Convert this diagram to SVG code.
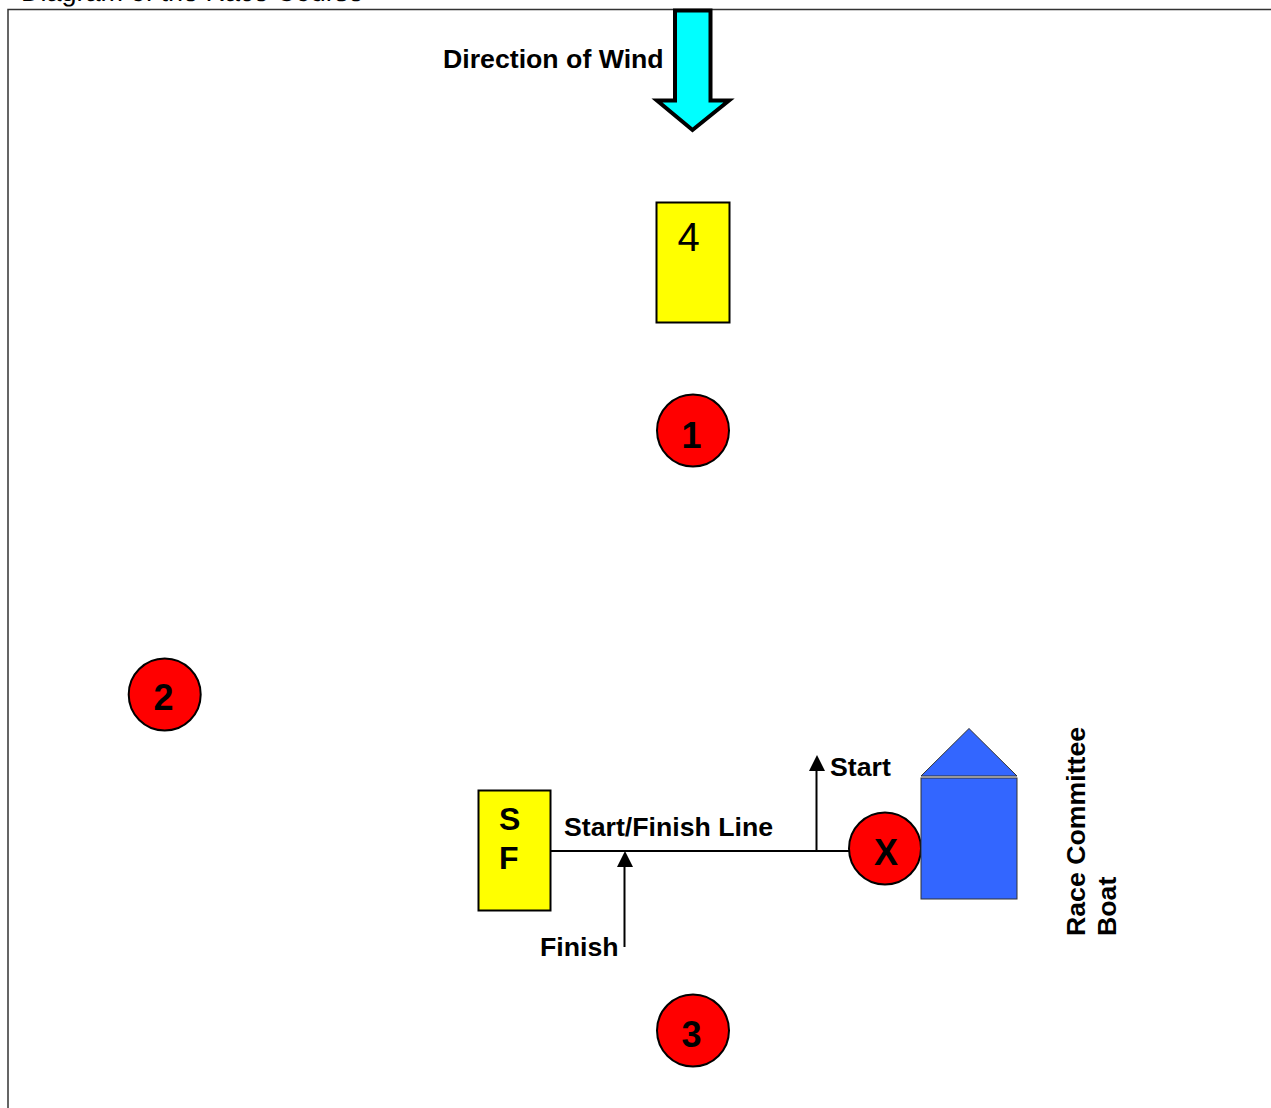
<svg xmlns="http://www.w3.org/2000/svg" width="1271" height="1108" viewBox="0 0 1271 1108">
<style>
text{font-family:"Liberation Sans",Arial,sans-serif;fill:#000}
.b{font-weight:700;font-size:26.700px}
.mark circle{fill:#f00;stroke:#000;stroke-width:2}
.mark text{font-weight:700;font-size:36px;text-anchor:middle}
.y{fill:#ff0;stroke:#000;stroke-width:2}
.boat{fill:#36f;stroke:#333;stroke-width:1}
.c{stroke:#000;stroke-width:2;fill:none}
</style>
<rect width="1271" height="1108" fill="#fff"/>
<text x="21" y="0.500" font-size="27" text-rendering="geometricPrecision">Diagram of the Race Course</text>
<path d="M8 1108V9.500H1271" fill="none" stroke="#333" stroke-width="1.500"/>
<g id="wind"><path d="M675 10.500H710.500V100.500H729L692.500 130L657 100.500H675Z" fill="#0ff" stroke="#000" stroke-width="4"/><text class="b" x="443" y="68">Direction of Wind</text></g>
<g id="mark4"><rect class="y" x="656.500" y="202.500" width="73" height="120"/><text x="688.500" y="251" font-size="40" text-anchor="middle">4</text></g>
<g id="mark1" class="mark"><circle cx="693" cy="430.500" r="36"/><text x="691.500" y="448">1</text></g>
<g id="mark2" class="mark"><circle cx="164.700" cy="694.500" r="36"/><text x="163.500" y="710">2</text></g>
<g id="mark3" class="mark"><circle cx="693" cy="1030.500" r="36"/><text x="691.500" y="1047">3</text></g>
<g id="connectors">
<path class="c" d="M551 851H849"/>
<path class="c" d="M816.500 851V770"/>
<path d="M809 771L817 755L825 771Z"/>
<path class="c" d="M624.500 947V866"/>
<path d="M617 867L625 851L633 867Z"/>
</g>
<g id="sf"><rect class="y" x="478.500" y="790.500" width="72" height="120"/><text class="b" x="499" y="830" style="font-size:32px">S</text><text class="b" x="499" y="869" style="font-size:32px">F</text></g>
<g id="markX" class="mark"><circle cx="885" cy="848.500" r="36"/><text x="886" y="865">X</text></g>
<g id="boat"><path class="boat" d="M921 776L969 728.500L1017 776Z"/><rect class="boat" x="921" y="778" width="96" height="121"/></g>
<text class="b" x="564" y="836">Start/Finish Line</text>
<text class="b" x="830" y="776">Start</text>
<text class="b" x="540" y="956">Finish</text>
<text class="b" transform="translate(1085 936) rotate(-90)">Race Committee</text>
<text class="b" transform="translate(1116 936) rotate(-90)">Boat</text>
</svg>
